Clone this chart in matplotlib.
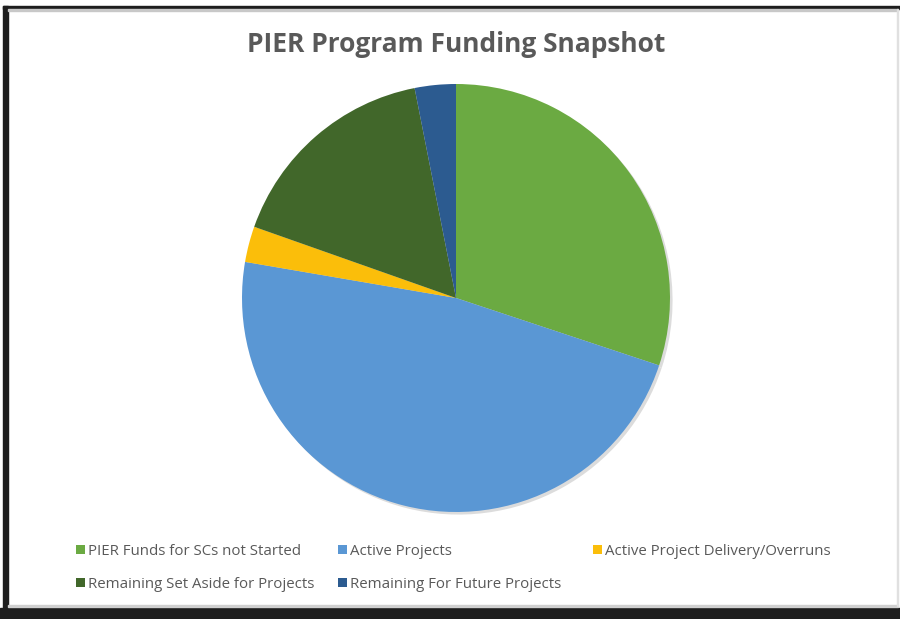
import numpy as np
import matplotlib
matplotlib.use("Agg")
import matplotlib.pyplot as plt
from matplotlib.patches import Rectangle, Patch

# donnees (en %)
labels = ["PIER Funds for SCs not Started", "Active Projects",
          "Active Project Delivery/Overruns", "Remaining Set Aside for Projects",
          "Remaining For Future Projects"]
values = [30.1, 47.6, 2.7, 16.5, 3.1]
colors = ["#6BAA42", "#5A97D4", "#FBBE0A", "#41672A", "#2C5B90"]
title = "PIER Program Funding Snapshot"

plt.rcParams['font.family'] = ['Open Sans', 'DejaVu Sans']

fig = plt.figure(figsize=(9, 6.19), dpi=100)
fig.patch.set_facecolor("white")

# cadre noir autour du graphique (capture d'ecran)
W, H = 900, 619
def fr(x, y, w, h, c):
    fig.patches.append(Rectangle((x / W, 1 - (y + h) / H), w / W, h / H,
                                 transform=fig.transFigure, color=c, zorder=0))
fr(3, 6, 897, 3, "#1e1e1e")
fr(3, 6, 5, 613, "#1e1e1e")
fr(0, 608, 900, 11, "#1e1e1e")
fr(8, 9, 890, 1.5, "#c8c8c8")
fr(8, 605, 890, 1.5, "#d0d0d0")
fr(897, 9, 1, 597, "#e0e0e0")

ax = fig.add_axes([242 / W, 1 - 512 / H, 428 / W, 428 / H])
# ombre legere
ax.pie(values, colors=["#dcdcdc"] * len(values), startangle=90, counterclock=False,
       radius=1.0, center=(0.012, -0.012), wedgeprops=dict(linewidth=0))
wedges, _ = ax.pie(values, colors=colors, startangle=90, counterclock=False,
                   radius=1.0, wedgeprops=dict(linewidth=0))
ax.set_xlim(-1, 1)
ax.set_ylim(-1, 1)
ax.axis("off")

fig.text(456 / W, 1 - 44 / H, title, ha="center", va="center",
         fontsize=19, fontweight="bold", color="#595959")

# legende en 3 colonnes, remplie ligne par ligne
handles = [Patch(facecolor=c, edgecolor="none") for c in colors]
col_x = [64, 326, 581]
for k, x0 in enumerate(col_x):
    idx = list(range(k, len(labels), 3))
    fig.legend([handles[i] for i in idx], [labels[i] for i in idx],
               loc="upper left", bbox_to_anchor=(x0 / W, 1 - 532 / H),
               frameon=False, fontsize=10.8, labelcolor="#595959",
               handlelength=0.6, handleheight=0.6, handletextpad=0.2,
               labelspacing=1.2, borderpad=0.3)

fig.savefig("out.png", dpi=100, facecolor="white")
